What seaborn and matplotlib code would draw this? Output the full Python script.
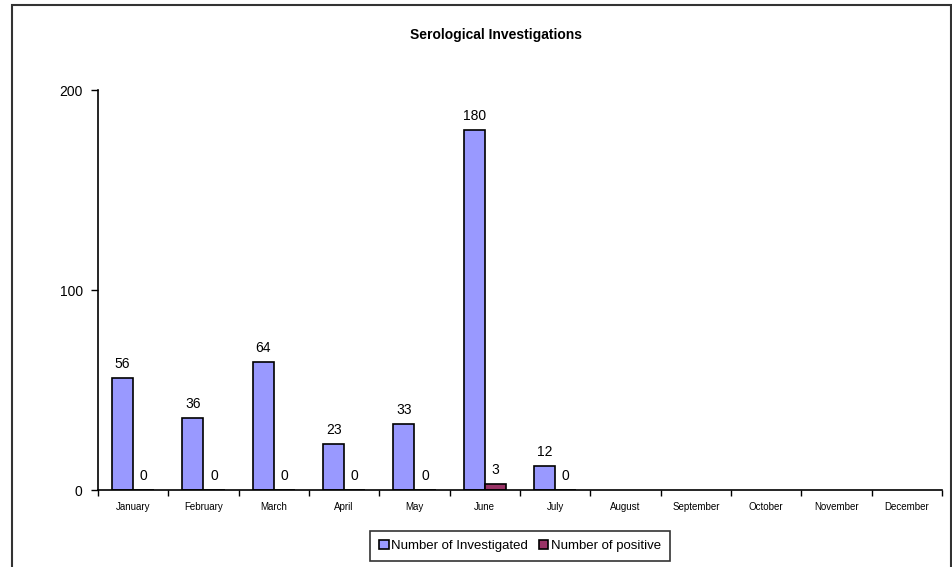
import matplotlib
matplotlib.use("Agg")
import matplotlib.pyplot as plt
import seaborn as sns
import pandas as pd
from matplotlib.patches import Rectangle
from matplotlib.ticker import FixedLocator

months = ["January", "February", "March", "April", "May", "June", "July",
          "August", "September", "October", "November", "December"]
data_months = ["January", "February", "March", "April", "May", "June", "July"]
investigated = [56, 36, 64, 23, 33, 180, 12]
positive = [0, 0, 0, 0, 0, 3, 0]
series = ["Number of Investigated", "Number of positive"]
colors = ["#9999FF", "#993366"]

df = pd.DataFrame({
    "month": data_months * 2,
    "value": investigated + positive,
    "series": [series[0]] * len(data_months) + [series[1]] * len(data_months),
})

sns.set_style("white")
plt.rcParams["font.family"] = ["Liberation Sans", "DejaVu Sans"]
plt.rcParams["text.color"] = "black"
plt.rcParams["xtick.color"] = "black"
plt.rcParams["ytick.color"] = "black"
plt.rcParams["axes.labelcolor"] = "black"

fig = plt.figure(figsize=(9.53, 5.67), dpi=100)
ax = fig.add_axes([98 / 953, 77 / 567, 844 / 953, 400 / 567])

sns.barplot(data=df, x="month", y="value", hue="series", order=months,
            hue_order=series, palette=colors, width=0.6, gap=0, saturation=1,
            edgecolor="black", linewidth=1.2, ax=ax, legend=True)

for c in ax.containers:
    ax.bar_label(c, fmt="%g", padding=5, fontsize=10, color="black")

ax.set_ylim(0, 200)
ax.set_xlim(-0.5, 11.5)
ax.set_yticks([0, 100, 200])
ax.set_yticklabels(["0", "100", "200"], fontsize=10)
ax.set_xlabel("")
ax.set_ylabel("")
ax.set_xticks(range(12))
ax.set_xticklabels(months, fontsize=7)
ax.tick_params(axis="x", which="major", length=0, pad=9)
ax.xaxis.set_minor_locator(FixedLocator([i - 0.5 for i in range(13)]))
ax.tick_params(axis="x", which="minor", length=4, width=1, color="black", direction="out", bottom=True)
ax.tick_params(axis="y", length=5, width=1, color="black", direction="out", left=True, pad=6)
for s in ["top", "right"]:
    ax.spines[s].set_visible(False)
for s in ["left", "bottom"]:
    ax.spines[s].set_color("black")
    ax.spines[s].set_linewidth(1.2)

ax.set_title("Serological Investigations", fontsize=10, fontweight="bold", pad=49,
             color="black")
ax.title.set_position((0.5, 1.0))
ax.title.set_y(1.0)
ax.title.set_transform(ax.transAxes)
# place title at y≈35 px from top
ax.title.set_visible(False)
fig.text(496 / 953, 1 - 35 / 567, "Serological Investigations", ha="center", va="center",
         fontsize=10, fontweight="bold", color="black")

leg = ax.legend(loc="center", bbox_to_anchor=(520 / 953, 21 / 567),
                bbox_transform=fig.transFigure, ncol=2, fontsize=9.5,
                frameon=True, fancybox=False, edgecolor="black",
                handlelength=0.7, handleheight=0.7, handletextpad=0.2,
                columnspacing=0.8, borderpad=0.7)
leg.get_frame().set_linewidth(1.2)
for t in leg.get_texts():
    t.set_color("black")

fig.patches.append(Rectangle((12 / 953, -0.1), 939 / 953, 1.1 - 5 / 567,
                             transform=fig.transFigure, fill=False,
                             edgecolor="#333333", linewidth=1.5))

fig.savefig("out.png", dpi=100)
